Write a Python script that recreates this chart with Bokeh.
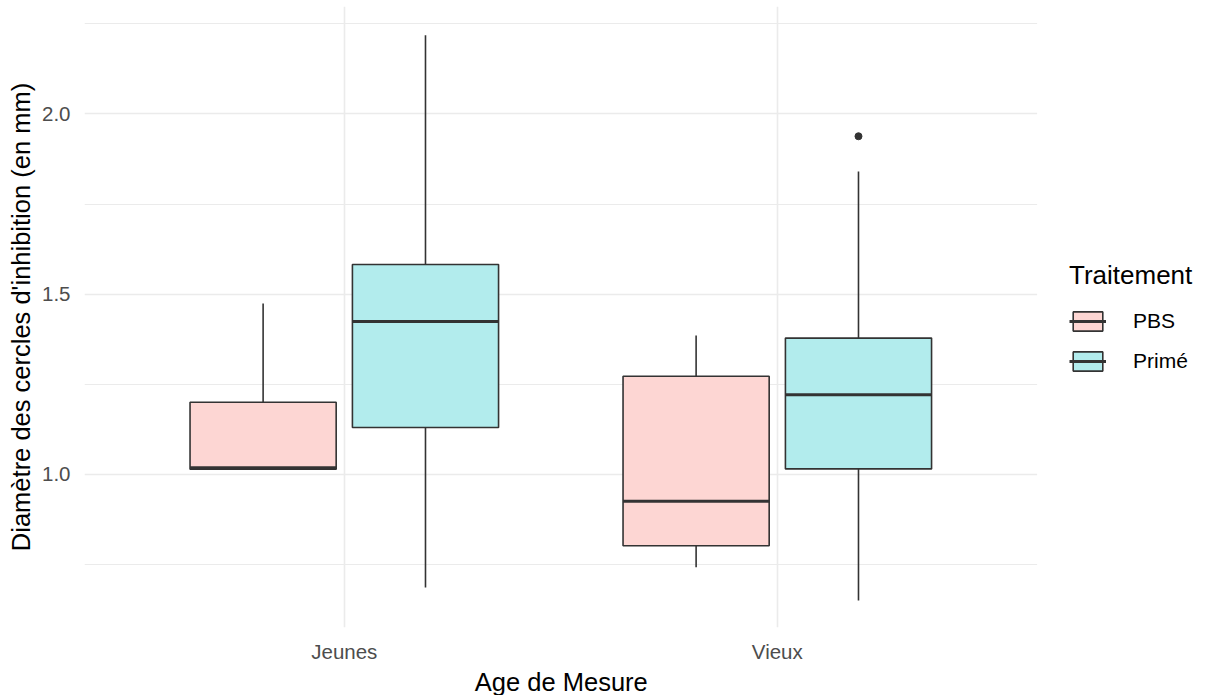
from bokeh.plotting import figure
from bokeh.models import (ColumnDataSource, Range1d, FixedTicker, BoxAnnotation,
                          Legend, LegendItem, PrintfTickFormatter, Title)
from bokeh.transform import dodge
from bokeh.embed import file_html
from bokeh.resources import INLINE

# ---- data ----
ages = ["Jeunes", "Vieux"]
traitements = ["PBS", "Primé"]

pbs_lower = [1.014, 0.742]
pbs_q1 = [1.014, 0.802]
pbs_median = [1.018, 0.925]
pbs_q3 = [1.200, 1.272]
pbs_upper = [1.474, 1.385]

prime_lower = [0.686, 0.650]
prime_q1 = [1.130, 1.015]
prime_median = [1.424, 1.221]
prime_q3 = [1.582, 1.378]
prime_upper = [2.218, 1.840]

outlier_age = ["Vieux"]
outlier_value = [1.938]

y_ticks = [1.0, 1.5, 2.0]
y_minor = [0.75, 1.25, 1.75, 2.25]

FONT = "Liberation Sans"
LINE = "#333333"
GRID = "#EBEBEB"
fills = {"PBS": "#FDD6D3", "Primé": "#B2ECED"}
offsets = {"PBS": -0.1875, "Primé": 0.1875}
box_w = 0.3375

# discrete positions for the categories (1, 2, ...) as ggplot does
age_pos = {a: i + 1 for i, a in enumerate(ages)}
x_lo, x_hi = 0.4, len(ages) + 0.6          # ggplot discrete expansion

W, H = 1205, 695
LEFT, TOP, BOTTOM = 84, 6, 65
FW = W - LEFT                               # frame runs to the right edge (legend lives there)
unit = 433.0                                # px per category
x_end = x_lo + FW / unit

p = figure(width=W, height=H,
           x_range=Range1d(x_lo, x_end), y_range=Range1d(0.575, 2.298),
           output_backend="svg", toolbar_location=None,
           min_border_left=LEFT, min_border_right=0, min_border_top=TOP,
           min_border_bottom=BOTTOM)
p.outline_line_color = None
p.background_fill_color = "white"
p.border_fill_color = "white"

legend_items = []
for trait, lo, q1, med, q3, up in [
        ("PBS", pbs_lower, pbs_q1, pbs_median, pbs_q3, pbs_upper),
        ("Primé", prime_lower, prime_q1, prime_median, prime_q3, prime_upper)]:
    src = ColumnDataSource(dict(x=[age_pos[a] for a in ages], lower=lo, q1=q1,
                                median=med, q3=q3, upper=up))
    off = offsets[trait]
    p.segment(x0=dodge("x", off), x1=dodge("x", off), y0="q3", y1="upper",
              source=src, line_color=LINE, line_width=1.6)
    p.segment(x0=dodge("x", off), x1=dodge("x", off), y0="q1", y1="lower",
              source=src, line_color=LINE, line_width=1.6)
    box = p.vbar(x=dodge("x", off), width=box_w, top="q3", bottom="q1",
                 source=src, fill_color=fills[trait], line_color=LINE, line_width=1.6)
    med_r = p.segment(x0=dodge("x", off - box_w / 2), x1=dodge("x", off + box_w / 2),
                      y0="median", y1="median", source=src, line_color=LINE, line_width=3.0)
    legend_items.append(LegendItem(label=trait, renderers=[box, med_r]))

out_src = ColumnDataSource(dict(x=[age_pos[a] for a in outlier_age], value=outlier_value))
p.scatter(x=dodge("x", offsets["Primé"]), y="value", source=out_src,
          size=7, fill_color=LINE, line_color=LINE)

# grid
yticker = FixedTicker(ticks=y_ticks, minor_ticks=y_minor)
xticker = FixedTicker(ticks=[age_pos[a] for a in ages])
p.yaxis.ticker = yticker
p.ygrid.ticker = yticker
p.xaxis.ticker = xticker
p.xgrid.ticker = xticker
p.xaxis.major_label_overrides = {age_pos[a]: a for a in ages}
p.ygrid.grid_line_color = GRID
p.ygrid.grid_line_width = 1.6
p.ygrid.minor_grid_line_color = GRID
p.ygrid.minor_grid_line_width = 1.2
p.xgrid.grid_line_color = GRID
p.xgrid.grid_line_width = 1.6

# white area right of the panel, where the legend sits
p.add_layout(BoxAnnotation(left=x_hi, fill_color="white", fill_alpha=1.0,
                           line_color=None))

for ax in (p.xaxis, p.yaxis):
    ax.axis_line_color = None
    ax.major_tick_line_color = None
    ax.minor_tick_line_color = None
    ax.major_tick_out = 0
    ax.major_tick_in = 0
    ax.minor_tick_out = 0
    ax.major_label_text_font = FONT
    ax.major_label_text_font_size = "20.5px"
    ax.major_label_text_color = "#4D4D4D"
    ax.axis_label_text_font = FONT
    ax.axis_label_text_font_size = "25.5px"
    ax.axis_label_text_font_style = "normal"
    ax.axis_label_text_color = "black"

p.xaxis.major_label_standoff = 12
p.yaxis.axis_label = "Diamètre des cercles d'inhibition (en mm)"
p.yaxis.major_label_standoff = 14
p.yaxis.axis_label_standoff = 4
p.yaxis.formatter = PrintfTickFormatter(format="%.1f")

# x-axis title, centred under the panel (not under the whole frame)
panel_px = (x_hi - x_lo) * unit
xtitle = Title(text="Age de Mesure", align="left", offset=panel_px / 2 - 86,
               text_font=FONT, text_font_size="25.5px", text_font_style="normal",
               text_color="black", standoff=0)
p.add_layout(xtitle, "below")

legend = Legend(items=legend_items, title="Traitement",
                location=(int(panel_px) + 33, 254),
                orientation="vertical", glyph_width=37, glyph_height=24, spacing=16,
                label_standoff=27, padding=4, margin=0, border_line_color=None,
                background_fill_alpha=0,
                title_text_font=FONT, title_text_font_size="26px",
                title_text_font_style="normal", title_text_color="black", title_standoff=18,
                label_text_font=FONT, label_text_font_size="21px", label_text_color="black")
p.add_layout(legend, "center")

open("out.html", "w").write(file_html(p, INLINE))
